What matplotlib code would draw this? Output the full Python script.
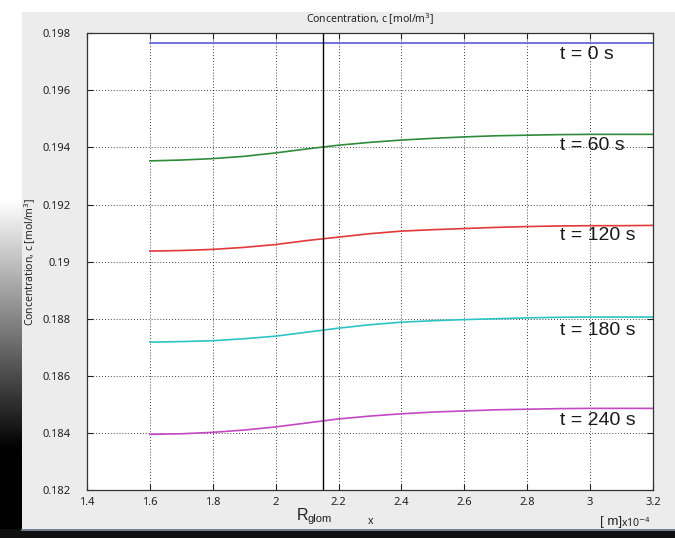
import numpy as np
import matplotlib
matplotlib.use("Agg")
import matplotlib.pyplot as plt
from matplotlib.patches import Rectangle

# radial position [x1e-4 m]
r = [1.6, 1.7, 1.8, 1.9, 2.0, 2.1, 2.2, 2.3, 2.4, 2.5, 2.6, 2.7, 2.8, 2.9, 3.0, 3.1, 3.2]

# concentration profiles [mol/m^3] at each time
c_t0 = [0.19765] * 17
c_t60 = [0.19353, 0.19356, 0.19361, 0.19369, 0.19381, 0.19395, 0.19408, 0.19418,
         0.19426, 0.19432, 0.19437, 0.19441, 0.19443, 0.19445, 0.19446, 0.19446, 0.19446]
c_t120 = [0.19037, 0.19039, 0.19043, 0.19050, 0.19060, 0.19074, 0.19086, 0.19098,
          0.19107, 0.19112, 0.19116, 0.19120, 0.19123, 0.19125, 0.19126, 0.19126, 0.19127]
c_t180 = [0.18718, 0.18720, 0.18723, 0.18730, 0.18739, 0.18753, 0.18767, 0.18779,
          0.18788, 0.18793, 0.18797, 0.18800, 0.18803, 0.18805, 0.18806, 0.18806, 0.18806]
c_t240 = [0.18395, 0.18397, 0.18402, 0.18410, 0.18421, 0.18435, 0.18449, 0.18459,
          0.18467, 0.18473, 0.18477, 0.18481, 0.18483, 0.18485, 0.18486, 0.18486, 0.18486]

series = [c_t0, c_t60, c_t120, c_t180, c_t240]
labels = ["t = 0 s", "t = 60 s", "t = 120 s", "t = 180 s", "t = 240 s"]
label_y = [0.19727, 0.19408, 0.19092, 0.18759, 0.18443]
colors = ["#5a5ad8", "#2e8b3a", "#e03a3a", "#2ec4c4", "#c448c4"]

r_glom = 2.15

x_ticks = [1.4, 1.6, 1.8, 2.0, 2.2, 2.4, 2.6, 2.8, 3.0, 3.2]
x_ticklabels = ["1.4", "1.6", "1.8", "2", "2.2", "2.4", "2.6", "2.8", "3", "3.2"]
y_ticks = [0.182, 0.184, 0.186, 0.188, 0.19, 0.192, 0.194, 0.196, 0.198]
y_ticklabels = ["0.182", "0.184", "0.186", "0.188", "0.19", "0.192", "0.194", "0.196", "0.198"]

plt.rcParams["font.family"] = ["Noto Sans", "DejaVu Sans"]

W, H = 675, 538
fig = plt.figure(figsize=(W / 100, H / 100), dpi=100, facecolor="white")

# window frame: grey panel, dark left edge fading upward, dark bottom strip
bg = fig.add_axes([0, 0, 1, 1])
bg.set_xlim(0, W)
bg.set_ylim(H, 0)
bg.axis("off")
yy = np.linspace(0, 1, 400)
shade = np.clip((yy * H - 200) / 250, 0, 1)
strip = 1 - shade
bg.imshow(np.tile(strip[:, None], (1, 2)), cmap="gray", vmin=0, vmax=1,
          extent=[0, 22, H, 0], aspect="auto", interpolation="bilinear")
bg.add_patch(Rectangle((22, 12), W - 22, 517, facecolor="#ececec", edgecolor="none"))
bg.add_patch(Rectangle((0, 529), W, H - 529, facecolor="#101010", edgecolor="none"))
bg.plot([22, W], [530, 530], color="#8a93a8", lw=1.2)

ax = fig.add_axes([87 / W, 1 - 490 / H, (653 - 87) / W, (490 - 33.3) / H])
ax.set_facecolor("white")

for vals, col in zip(series, colors):
    ax.plot(r, vals, color=col, lw=1.2)

ax.axvline(r_glom, color="black", lw=1.0)

for txt, ly in zip(labels, label_y):
    ax.text(2.905, ly, txt, ha="left", va="center", fontsize=14,
            family="Liberation Sans", color="#1a1a1a")

ax.set_xlim(1.4, 3.2)
ax.set_ylim(0.182, 0.198)
ax.set_xticks(x_ticks)
ax.set_xticklabels(x_ticklabels)
ax.set_yticks(y_ticks)
ax.set_yticklabels(y_ticklabels)
ax.grid(True, color="black", linestyle=(0, (1, 2.5)), lw=0.6)
ax.tick_params(direction="in", length=4, width=0.8, top=True, right=True,
               labelsize=8, colors="#222222")
ax.tick_params(axis="y", pad=12)
ax.tick_params(axis="x", pad=5)
for s in ax.spines.values():
    s.set_color("#333333")
    s.set_linewidth(0.9)

ax.set_title("Concentration, c [mol/m$^3$]", fontsize=7.5, pad=7, color="#222222")
ax.set_ylabel("Concentration, c [mol/m$^3$]", fontsize=7.5, color="#222222")
ax.yaxis.set_label_coords(-0.087, 0.5)

# axis annotation below the plot
fig.text(297 / W, 1 - 516 / H, "R", fontsize=11.5, family="Liberation Sans",
         va="center", ha="left", color="#222222")
fig.text(307.5 / W, 1 - 519 / H, "glom", fontsize=8, family="Liberation Sans",
         va="center", ha="left", color="#222222")
fig.text(371 / W, 1 - 522 / H, "x", fontsize=7.5, va="center", ha="center", color="#222222")
fig.text(600 / W, 1 - 522 / H, "[ m]", fontsize=9.5, family="Liberation Sans",
         va="center", ha="left", color="#222222")
fig.text(621 / W, 1 - 523 / H, "x10$^{-4}$", fontsize=7.5, va="center", ha="left",
         color="#222222")

fig.savefig("out.png", dpi=100, facecolor=fig.get_facecolor())
